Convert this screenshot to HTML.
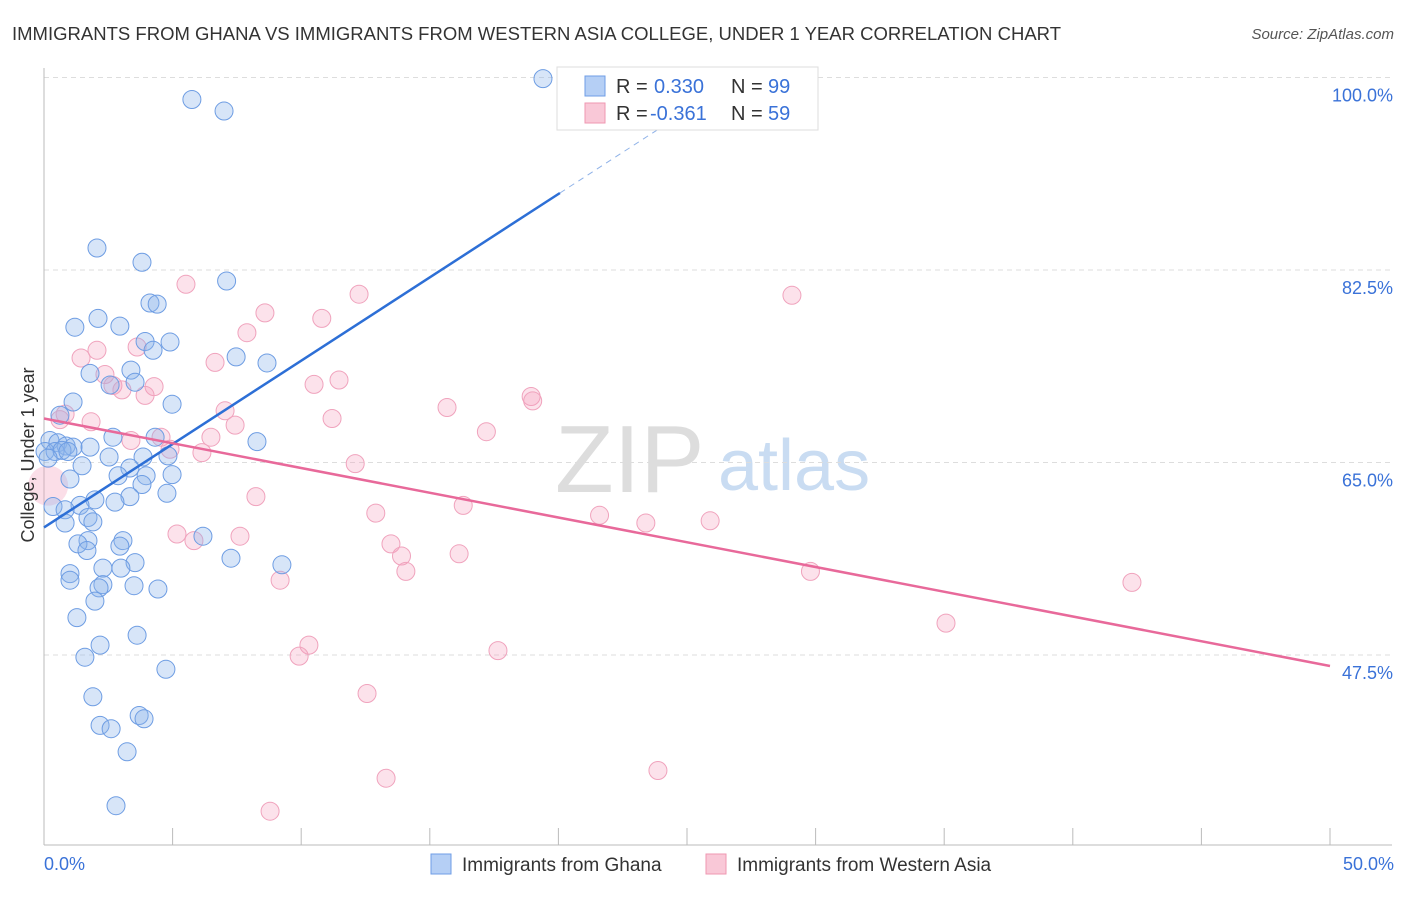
<!DOCTYPE html>
<html><head><meta charset="utf-8"><style>
body{margin:0;background:#fff;font-family:"Liberation Sans",sans-serif;}
svg text{font-family:"Liberation Sans",sans-serif;}
</style></head><body>
<svg id="chart" width="1406" height="892">
<text x="12" y="40" font-size="18.5" fill="#333" textLength="1049">IMMIGRANTS FROM GHANA VS IMMIGRANTS FROM WESTERN ASIA COLLEGE, UNDER 1 YEAR CORRELATION CHART</text>
<text x="1394" y="39" font-size="15" fill="#555" text-anchor="end" font-style="italic">Source: ZipAtlas.com</text>
<text x="555" y="492" font-size="96" fill="#ddd" font-family="Liberation Serif">ZIP</text>
<text x="718" y="490" font-size="72" fill="#c9dcf2">atlas</text>
<g id="grid"></g><g id="axes"></g><g id="pts"></g><g id="lines"></g>
<text transform="translate(34,455) rotate(-90)" font-size="18" fill="#333" text-anchor="middle">College, Under 1 year</text>
<text x="44" y="870" font-size="18" fill="#3a72d8">0.0%</text>
<text x="1394" y="870" font-size="18" fill="#3a72d8" text-anchor="end">50.0%</text>
<g>
<rect x="557" y="67" width="261" height="63" fill="#fff" stroke="#ddd"/>
<rect x="585" y="76" width="20" height="20" fill="#b5cff5" stroke="#6f9de6"/>
<rect x="585" y="103" width="20" height="20" fill="#f9c8d7" stroke="#ef97b2"/>
<text x="616" y="93" font-size="20" fill="#333">R = <tspan x="654" fill="#3a72d8">0.330</tspan><tspan x="731">N = </tspan><tspan x="768" fill="#3a72d8">99</tspan></text>
<text x="616" y="120" font-size="20" fill="#333">R = <tspan x="650" fill="#3a72d8">-0.361</tspan><tspan x="731">N = </tspan><tspan x="768" fill="#3a72d8">59</tspan></text>
</g>
<g>
<rect x="431" y="854" width="20" height="20" fill="#b5cff5" stroke="#6f9de6"/>
<text x="462" y="871" font-size="19" fill="#333">Immigrants from Ghana</text>
<rect x="706" y="854" width="20" height="20" fill="#f9c8d7" stroke="#ef97b2"/>
<text x="737" y="871" font-size="19" fill="#333">Immigrants from Western Asia</text>
</g>
</svg>
<script>
const yTicks=[100,82.5,65,47.5];
const yTickLabels=["100.0%","82.5%","65.0%","47.5%"];
const xTicks=[0,5,10,15,20,25,30,35,40,45,50];
const blueX=[19.4,5.75,7.0,2.06,3.81,7.1,4.12,4.4,2.1,1.2,2.95,3.93,4.9,4.24,7.47,8.67,1.79,3.38,3.54,2.57,1.13,4.98,0.62,2.68,4.32,8.28,0.23,0.54,0.86,1.13,1.79,0.04,0.43,0.7,0.93,0.16,2.53,3.85,4.82,1.48,3.34,2.88,3.97,4.98,1.01,3.81,4.78,3.34,1.98,2.76,1.4,0.35,0.82,1.71,1.9,0.82,6.18,3.07,1.71,1.32,2.95,1.67,7.27,3.54,9.25,2.29,2.99,1.01,1.01,2.29,3.5,2.14,4.43,1.98,1.28,3.62,2.18,1.59,4.74,1.9,2.18,2.61,3.7,3.89,3.23,2.8];
const blueY=[99.9,98.0,96.95,84.5,83.2,81.5,79.5,79.4,78.1,77.3,77.4,76.0,75.95,75.2,74.6,74.05,73.1,73.4,72.3,72.05,70.5,70.3,69.3,67.3,67.3,66.9,67.0,66.8,66.5,66.4,66.4,66.0,66.0,66.1,66.0,65.4,65.5,65.5,65.6,64.7,64.5,63.8,63.8,63.9,63.5,63.0,62.2,61.9,61.6,61.4,61.1,61.0,60.7,60.0,59.6,59.5,58.3,57.9,57.9,57.6,57.4,57.0,56.3,55.9,55.7,55.4,55.4,54.9,54.3,53.9,53.8,53.6,53.5,52.4,50.9,49.3,48.4,47.3,46.2,43.7,41.1,40.8,42.0,41.7,38.7,33.8];
const pinkX=[5.52,12.25,29.08,8.59,10.8,7.89,3.62,2.06,1.44,6.65,2.37,11.47,10.5,2.68,3.03,4.28,3.93,18.94,19.0,15.67,7.04,0.82,0.62,11.2,1.83,7.43,17.2,4.55,3.38,6.49,4.9,6.14,12.1,8.24,16.3,12.9,21.6,23.4,25.9,5.17,7.62,5.83,13.49,13.9,16.14,14.07,29.8,9.18,42.3,35.07,10.3,9.92,17.65,12.56,13.3,23.87,8.79];
const pinkY=[81.2,80.3,80.2,78.6,78.1,76.8,75.5,75.2,74.5,74.1,73.0,72.5,72.1,72.0,71.6,71.9,71.1,71.0,70.6,70.0,69.7,69.4,68.9,69.0,68.7,68.4,67.8,67.3,67.0,67.3,66.2,65.9,64.9,61.9,61.1,60.4,60.2,59.5,59.7,58.5,58.3,57.9,57.6,56.5,56.7,55.1,55.1,54.3,54.1,50.4,48.4,47.4,47.9,44.0,36.3,37.0,33.3];
const bigPink=[0.16,62.9];
const blueTrend=[0,59.1,20.06,89.5];
const pinkTrend=[0,69.0,50,46.5];
const NS="http://www.w3.org/2000/svg";
const X=v=>44+v*25.72, Y=v=>77.5+(100-v)*11;
function mk(t,a,p){const e=document.createElementNS(NS,t);for(const k in a)e.setAttribute(k,a[k]);p.appendChild(e);return e;}
const grid=document.getElementById('grid');
yTicks.forEach((t,i)=>{
 const l=mk('line',{x1:44,x2:1392,y1:Y(t),y2:Y(t),stroke:'#ddd','stroke-dasharray':'5,4'},grid);
 
 
 const tx=mk('text',{x:1393,y:Y(t)+24,'font-size':18,fill:'#3a72d8','text-anchor':'end'},grid);
 tx.textContent=yTickLabels[i];
 
 
});
const ax=document.getElementById('axes');
const ya=mk('line',{x1:44,x2:44,y1:68,y2:845,stroke:'#bbb'},ax);


const xa=mk('line',{x1:44,x2:1392,y1:845,y2:845,stroke:'#bbb'},ax);


xTicks.forEach(t=>{const l=mk('line',{x1:X(t),x2:X(t),y1:828,y2:845,stroke:'#bbb'},ax);
 
 });
const pts=document.getElementById('pts');
pinkX.forEach((v,i)=>{const c=mk('circle',{cx:X(v),cy:Y(pinkY[i]),r:9,fill:'rgba(244,160,188,0.3)',stroke:'#f0a3bd','stroke-width':1},pts);
 
 });
const bp=mk('circle',{cx:X(bigPink[0]),cy:Y(bigPink[1]),r:20,fill:'rgba(244,160,188,0.35)',stroke:'none'},pts);


blueX.forEach((v,i)=>{const c=mk('circle',{cx:X(v),cy:Y(blueY[i]),r:9,fill:'rgba(140,180,235,0.35)',stroke:'#6e9de3','stroke-width':1},pts);
 
 });
const ln=document.getElementById('lines');
const bs=(blueTrend[3]-blueTrend[1])/(blueTrend[2]-blueTrend[0]);
const xTop=blueTrend[0]+(100.6-blueTrend[1])/bs;
const b1=mk('line',{x1:X(blueTrend[0]),y1:Y(blueTrend[1]),x2:X(blueTrend[2]),y2:Y(blueTrend[3]),stroke:'#2d6fd6','stroke-width':2.5},ln);


const b2=mk('line',{x1:X(blueTrend[2]),y1:Y(blueTrend[3]),x2:X(xTop),y2:Y(100.6),stroke:'#8fb2e8','stroke-width':1,'stroke-dasharray':'6,5'},ln);


const p1=mk('line',{x1:X(pinkTrend[0]),y1:Y(pinkTrend[1]),x2:X(pinkTrend[2]),y2:Y(pinkTrend[3]),stroke:'#e8699a','stroke-width':2.5},ln);


</script>
</body></html>
